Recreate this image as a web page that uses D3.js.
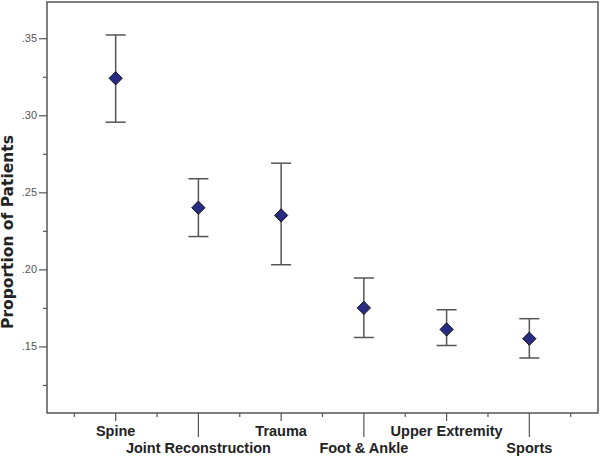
<!DOCTYPE html>
<html lang="en">
<head>
  <meta charset="utf-8" />
  <title>Proportion of Patients by Subspecialty</title>
  <script type="text/javascript" src="https://cdn.jsdelivr.net/npm/d3@7/dist/d3.min.js"></script>
  <style type="text/css">
body { margin: 0; background: white; }
text { font-family: "Liberation Sans", Arial, sans-serif; }
  </style>
</head>
<body>

<script type="text/javascript">

// values
var categories = ["Spine", "Joint Reconstruction", "Trauma", "Foot & Ankle", "Upper Extremity", "Sports"];
var means = [0.324, 0.240, 0.235, 0.175, 0.161, 0.155];
var lower = [0.2955, 0.2213, 0.2030, 0.1558, 0.1506, 0.1425];
var upper = [0.3521, 0.2588, 0.2689, 0.1944, 0.1738, 0.1680];
var yTicks = [0.15, 0.20, 0.25, 0.30, 0.35];
var yMinorTicks = [0.125, 0.175, 0.225, 0.275, 0.325];

var w = 600;
var h = 456;
var frame = { left: 47, right: 598, top: 2, bottom: 413 };

var svg = d3.select("body")
    .append("svg")
    .attr("width", w)
    .attr("height", h);

var x = d3.scalePoint()
    .domain(categories)
    .range([frame.left, frame.right])
    .padding(0.83);

var y = d3.scaleLinear()
    .domain([0.1068, 0.3735])
    .range([frame.bottom, frame.top]);

var step = x.step();

// frame
svg.append("rect")
    .attr("x", frame.left)
    .attr("y", frame.top)
    .attr("width", frame.right - frame.left)
    .attr("height", frame.bottom - frame.top)
    .attr("fill", "none")
    .attr("stroke", "#555")
    .attr("stroke-width", 1.5);

// y axis
var fmt = function(d) { return d3.format(".2f")(d).replace(/^0/, ""); };
var yAxis = svg.append("g")
    .attr("transform", "translate(" + frame.left + ",0)")
    .call(d3.axisLeft(y).tickValues(yTicks).tickSize(8).tickFormat(fmt));
var yMinor = svg.append("g")
    .attr("transform", "translate(" + frame.left + ",0)")
    .call(d3.axisLeft(y).tickValues(yMinorTicks).tickSize(4).tickFormat(""));
[yAxis, yMinor].forEach(function(g) {
  g.select(".domain").remove();
  g.selectAll(".tick line").attr("stroke", "#555").attr("stroke-width", 1.2);
});
yAxis.selectAll(".tick text")
    .attr("x", -10)
    .attr("fill", "#555")
    .style("font-size", "11px");

svg.append("text")
    .attr("transform", "translate(13," + 232 + ") rotate(-90)")
    .attr("text-anchor", "middle")
    .style("font-family", "'DejaVu Sans', Verdana, sans-serif")
    .style("font-size", "15.5px")
    .style("font-weight", "bold")
    .attr("fill", "#222")
    .text("Proportion of Patients");

// x axis ticks: category ticks alternate short/long, minor ticks between
var xt = svg.append("g").attr("id", "xticks");
var minorPos = [];
categories.forEach(function(c) {
  minorPos.push(x(c) - step / 2);
});
minorPos.push(x(categories[categories.length - 1]) + step / 2);
xt.selectAll("line.minor")
    .data(minorPos)
    .enter()
    .append("line")
    .attr("class", "minor")
    .attr("x1", function(d) { return d; })
    .attr("x2", function(d) { return d; })
    .attr("y1", frame.bottom)
    .attr("y2", frame.bottom + 4);
xt.selectAll("line.major")
    .data(categories)
    .enter()
    .append("line")
    .attr("class", "major")
    .attr("x1", function(d) { return x(d); })
    .attr("x2", function(d) { return x(d); })
    .attr("y1", frame.bottom)
    .attr("y2", function(d, i) { return frame.bottom + (i % 2 ? 24 : 8); });
xt.selectAll("line")
    .attr("stroke", "#555")
    .attr("stroke-width", 1.2);

svg.append("g")
    .selectAll("text")
    .data(categories)
    .enter()
    .append("text")
    .attr("x", function(d) { return x(d); })
    .attr("y", function(d, i) { return i % 2 ? 453 : 436; })
    .attr("text-anchor", "middle")
    .style("font-size", "14.5px")
    .style("font-weight", "bold")
    .attr("fill", "#222")
    .text(function(d) { return d; });

// error bars
var bars = svg.append("g")
    .attr("id", "bars")
    .selectAll("g")
    .data(categories)
    .enter()
    .append("g");
bars.append("line")
    .attr("x1", function(d) { return x(d); })
    .attr("x2", function(d) { return x(d); })
    .attr("y1", function(d, i) { return y(upper[i]); })
    .attr("y2", function(d, i) { return y(lower[i]); });
bars.append("line")
    .attr("x1", function(d) { return x(d) - 10; })
    .attr("x2", function(d) { return x(d) + 10; })
    .attr("y1", function(d, i) { return y(upper[i]); })
    .attr("y2", function(d, i) { return y(upper[i]); });
bars.append("line")
    .attr("x1", function(d) { return x(d) - 10; })
    .attr("x2", function(d) { return x(d) + 10; })
    .attr("y1", function(d, i) { return y(lower[i]); })
    .attr("y2", function(d, i) { return y(lower[i]); });
bars.selectAll("line")
    .attr("stroke", "#555")
    .attr("stroke-width", 1.5);

var diamond = d3.symbol().type(d3.symbolDiamond2).size(112);
bars.append("path")
    .attr("d", diamond)
    .attr("transform", function(d, i) { return "translate(" + x(d) + "," + y(means[i]) + ")"; })
    .attr("fill", "#272c82")
    .attr("stroke", "#111")
    .attr("stroke-width", 1);

</script>

</body>
</html>
